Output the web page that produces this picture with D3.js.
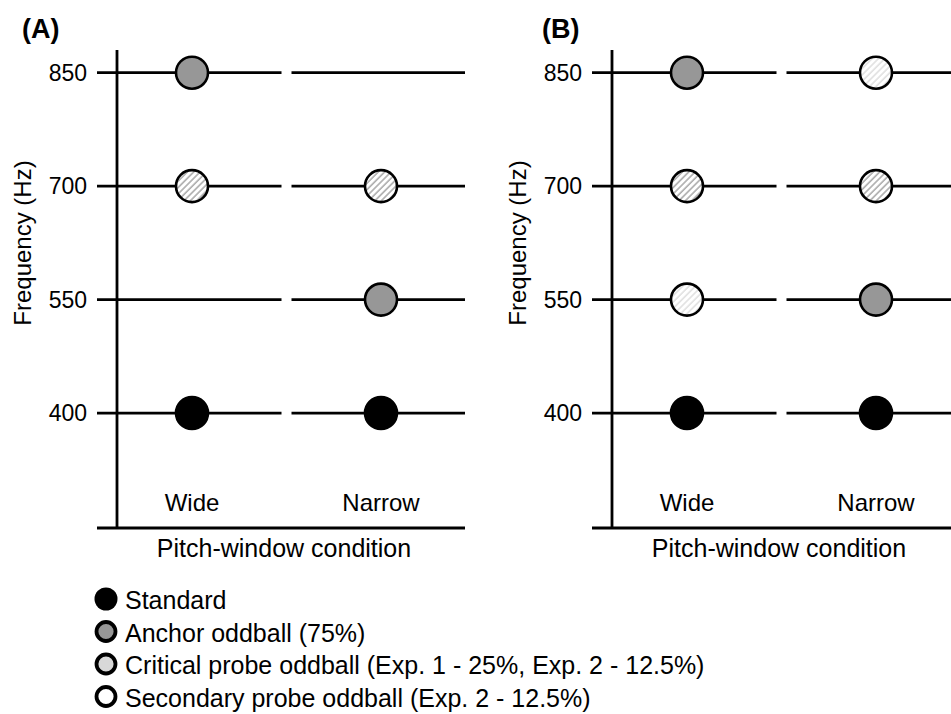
<!DOCTYPE html>
<html>
<head>
<meta charset="utf-8">
<script src="https://cdn.jsdelivr.net/npm/d3@7"></script>
<style>
  body { margin: 0; background: #fff; }
  text { font-family: "Liberation Sans", Arial, Helvetica, sans-serif; fill: #000; }
</style>
</head>
<body>
<script>
// data
var freqTicks = [400, 550, 700, 850];
var conditions = ["Wide", "Narrow"];

// panel A tones
var toneCondA = ["Wide", "Wide", "Wide", "Narrow", "Narrow", "Narrow"];
var toneFreqA = [850, 700, 400, 700, 550, 400];
var toneTypeA = ["anchor", "critical", "standard", "critical", "anchor", "standard"];

// panel B tones
var toneCondB = ["Wide", "Wide", "Wide", "Wide", "Narrow", "Narrow", "Narrow", "Narrow"];
var toneFreqB = [850, 700, 550, 400, 850, 700, 550, 400];
var toneTypeB = ["anchor", "critical", "secondary", "standard", "secondary", "critical", "anchor", "standard"];

var legendTypes = ["standard", "anchor", "critical", "secondary"];
var legendLabels = ["Standard", "Anchor oddball (75%)",
  "Critical probe oddball (Exp. 1 - 25%, Exp. 2 - 12.5%)",
  "Secondary probe oddball (Exp. 2 - 12.5%)"];

// size
var width = 951, height = 714;
var panelW = 368;

var svg = d3.select("body").append("svg")
    .attr("width", width)
    .attr("height", height);

// hatch patterns for probe tones
var defs = svg.append("defs");
function hatch(id, stroke) {
  var p = defs.append("pattern")
      .attr("id", id)
      .attr("patternUnits", "userSpaceOnUse")
      .attr("width", 4.5)
      .attr("height", 4.5)
      .attr("patternTransform", "rotate(45)");
  p.append("rect").attr("width", 4.5).attr("height", 4.5).attr("fill", "#fff");
  p.append("line")
      .attr("x1", 1).attr("y1", 0).attr("x2", 1).attr("y2", 4.5)
      .attr("stroke", stroke).attr("stroke-width", 1.4);
}
hatch("hatchDark", "#a0a0a0");
hatch("hatchLight", "#dcdcdc");

// fills for the markers in the chart and in the legend
var chartFill = {standard: "#000", anchor: "#979797", critical: "url(#hatchDark)", secondary: "url(#hatchLight)"};
var legendFill = {standard: "#000", anchor: "#979797", critical: "#d8d8d8", secondary: "#fff"};

// scales
var y = d3.scaleLinear()
    .domain([248, 880])
    .range([528, 50]);

var x = d3.scalePoint()
    .domain(conditions)
    .range([95, 284]);

function drawPanel(left, label, conds, freqs, types) {
  var g = svg.append("g").attr("transform", "translate(" + left + ",0)");
  var split = (x("Wide") + x("Narrow")) / 2;

  // horizontal frequency lines, split per condition
  freqTicks.forEach(function(f) {
    g.append("line")
        .attr("x1", 0).attr("x2", split - 5)
        .attr("y1", y(f)).attr("y2", y(f))
        .attr("stroke", "#000").attr("stroke-width", 2.8);
    g.append("line")
        .attr("x1", split + 5).attr("x2", panelW)
        .attr("y1", y(f)).attr("y2", y(f))
        .attr("stroke", "#000").attr("stroke-width", 2.8);
  });

  // y axis line
  g.append("line")
      .attr("x1", 20).attr("x2", 20)
      .attr("y1", y.range()[1]).attr("y2", y.range()[0])
      .attr("stroke", "#000").attr("stroke-width", 2.8);

  // x axis line
  g.append("line")
      .attr("x1", 0).attr("x2", panelW)
      .attr("y1", y.range()[0]).attr("y2", y.range()[0])
      .attr("stroke", "#000").attr("stroke-width", 2.8);

  // tick labels
  g.selectAll(".tick")
      .data(freqTicks)
    .enter().append("text")
      .attr("x", -10)
      .attr("y", function(d) { return y(d); })
      .attr("dy", "0.36em")
      .attr("text-anchor", "end")
      .style("font-size", "23px")
      .text(function(d) { return d; });

  // condition labels
  g.selectAll(".cond")
      .data(conditions)
    .enter().append("text")
      .attr("x", function(d) { return x(d); })
      .attr("y", 511)
      .attr("text-anchor", "middle")
      .style("font-size", "24px")
      .text(function(d) { return d; });

  g.append("text")
      .attr("x", 187)
      .attr("y", 557)
      .attr("text-anchor", "middle")
      .style("font-size", "25px")
      .text("Pitch-window condition");

  g.append("text")
      .attr("transform", "translate(-66," + 243 + ") rotate(-90)")
      .attr("text-anchor", "middle")
      .style("font-size", "24px")
      .text("Frequency (Hz)");

  // tones
  g.selectAll(".tone")
      .data(d3.range(conds.length))
    .enter().append("circle")
      .attr("cx", function(i) { return x(conds[i]); })
      .attr("cy", function(i) { return y(freqs[i]); })
      .attr("r", 16)
      .attr("fill", function(i) { return chartFill[types[i]]; })
      .attr("stroke", "#000")
      .attr("stroke-width", 2.6);

  svg.append("text")
      .attr("x", label.x)
      .attr("y", 38)
      .style("font-size", "27px")
      .style("font-weight", "bold")
      .text(label.text);
}

drawPanel(97, {x: 22, text: "(A)"}, toneCondA, toneFreqA, toneTypeA);
drawPanel(592, {x: 542, text: "(B)"}, toneCondB, toneFreqB, toneTypeB);

// legend
var legend = svg.selectAll(".legend")
    .data(legendTypes)
  .enter().append("g")
    .attr("transform", function(d, i) { return "translate(106," + (599 + i * 32.5) + ")"; });

legend.append("circle")
    .attr("r", function(d) { return d === "standard" ? 11.5 : 9.5; })
    .attr("fill", function(d) { return legendFill[d]; })
    .attr("stroke", "#000")
    .attr("stroke-width", function(d) { return d === "standard" ? 0 : 3.8; });

legend.append("text")
    .attr("x", 19)
    .attr("dy", "0.4em")
    .style("font-size", "25px")
    .text(function(d, i) { return legendLabels[i]; });
</script>
</body>
</html>
